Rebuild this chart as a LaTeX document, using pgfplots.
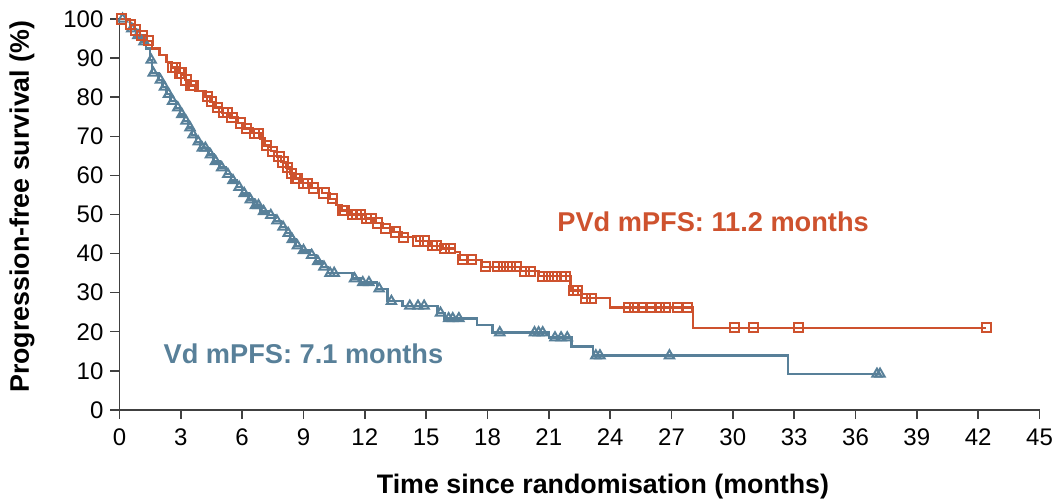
\documentclass[border=0pt]{standalone}
\usepackage{pgfplots}
\usepackage{pgfplotstable}
\pgfplotsset{compat=1.18}
\usepackage{fontspec}
\setmainfont{Liberation Sans}
\definecolor{pvd}{RGB}{206,82,46}
\definecolor{vd}{RGB}{88,128,153}

% Kaplan-Meier step data: time (months), survival (%)
\pgfplotstableread{
t S
0 100
0.5 98.6
0.75 97.2
1.0 95.8
1.3 94.4
1.6 92.5
1.95 90.8
2.3 89.0
2.55 87.6
2.9 86.2
3.2 84.4
3.45 83.0
3.7 81.6
4.2 80.2
4.45 78.8
4.7 77.4
5.0 76.0
5.4 74.8
5.8 73.4
6.1 72.0
6.5 70.8
6.9 69.4
7.1 67.6
7.4 66.2
7.7 64.8
7.9 63.4
8.15 62.0
8.35 60.5
8.55 59.2
8.9 58.0
9.4 56.8
9.9 55.5
10.3 54.0
10.6 52.5
10.85 51.0
11.3 50.0
12.0 49.0
12.5 47.8
12.9 46.5
13.4 45.5
13.8 44.2
14.5 43.2
15.2 42.0
15.8 41.3
16.4 40.4
16.65 38.4
17.7 36.6
19.6 35.5
20.5 34.2
22.05 30.6
22.6 28.6
24.0 26.2
28.05 21.0
42.4 21.0
}\pvdsteps

% censored observations, PVd
\pgfplotstableread{
t S
0.1 100
0.55 98.6
0.8 97.2
1.1 95.8
1.4 94.4
2.6 87.6
2.75 87.6
2.95 86.2
3.05 86.2
3.25 84.4
3.5 83.0
3.6 83.0
4.3 80.2
4.5 78.8
4.8 77.4
5.1 76.0
5.3 76.0
5.5 74.8
5.9 73.4
6.2 72.0
6.6 70.8
6.8 70.8
7.2 67.6
7.5 66.2
7.8 64.8
8.0 63.4
8.2 62.0
8.4 60.5
8.6 59.2
8.7 59.2
9.0 58.0
9.2 58.0
9.5 56.8
10.0 55.5
10.4 54.0
10.9 51.0
11.0 51.0
11.4 50.0
11.6 50.0
11.8 50.0
12.1 49.0
12.3 49.0
12.6 47.8
13.0 46.5
13.5 45.5
13.9 44.2
14.6 43.2
14.9 43.2
15.3 42.0
15.5 42.0
15.9 41.3
16.2 41.3
16.8 38.4
17.2 38.4
17.9 36.6
18.5 36.6
18.8 36.6
19.1 36.6
19.4 36.6
19.8 35.5
20.1 35.5
20.7 34.2
21.0 34.2
21.3 34.2
21.6 34.2
21.8 34.2
22.2 30.6
22.4 30.6
22.8 28.6
23.1 28.6
24.9 26.2
25.2 26.2
25.6 26.2
26.0 26.2
26.4 26.2
26.7 26.2
27.3 26.2
27.8 26.2
30.1 21.0
31.0 21.0
33.2 21.0
42.4 21.0
}\pvdcens

\pgfplotstableread{
t S
0 100
0.5 97.5
0.8 95.8
1.1 94.2
1.3 92.5
1.5 89.5
1.6 86.2
1.9 84.4
2.1 82.6
2.3 80.8
2.5 79.0
2.75 77.3
2.95 75.6
3.15 73.9
3.35 72.2
3.55 70.4
3.75 68.6
3.95 67.0
4.35 65.3
4.6 63.6
4.9 62.0
5.2 60.3
5.45 58.7
5.75 57.0
6.0 55.4
6.3 53.8
6.55 52.3
6.9 50.8
7.3 49.8
7.6 48.4
7.9 46.8
8.15 45.2
8.35 43.6
8.6 42.0
8.9 40.8
9.3 39.6
9.6 38.0
9.9 36.6
10.2 35.0
11.4 33.6
11.8 32.6
12.6 31.0
13.1 27.8
13.85 26.6
15.55 24.8
15.9 23.4
17.5 21.8
18.25 19.8
21.0 18.5
22.1 16.2
23.15 13.9
32.7 9.2
37.2 9.2
}\vdsteps

% censored observations, Vd
\pgfplotstableread{
t S
0.15 100
0.6 97.5
0.9 95.8
1.2 94.2
1.55 89.5
1.65 86.2
2.0 84.4
2.2 82.6
2.4 80.8
2.6 79.0
2.85 77.3
3.05 75.6
3.25 73.9
3.45 72.2
3.6 70.4
3.85 68.6
4.05 67.0
4.2 67.0
4.45 65.3
4.7 63.6
5.0 62.0
5.3 60.3
5.55 58.7
5.85 57.0
6.1 55.4
6.4 53.8
6.65 52.3
6.8 52.3
7.05 50.8
7.4 49.8
7.7 48.4
8.0 46.8
8.25 45.2
8.45 43.6
8.7 42.0
9.0 40.8
9.4 39.6
9.7 38.0
10.0 36.6
10.3 35.0
10.5 35.0
11.5 33.6
11.9 32.6
12.2 32.6
12.7 31.0
13.3 27.8
14.2 26.6
14.6 26.6
14.9 26.6
15.7 24.8
16.1 23.4
16.3 23.4
16.6 23.4
18.6 19.8
20.3 19.8
20.5 19.8
20.7 19.8
21.3 18.5
21.6 18.5
21.9 18.5
23.3 13.9
23.5 13.9
26.9 13.9
37.05 9.2
37.2 9.2
}\vdcens

\begin{document}
\begin{tikzpicture}
\begin{axis}[
  scale only axis, width=460pt, height=195.5pt,
  xmin=0, xmax=45, ymin=0, ymax=100,
  axis lines=left,
  axis line style={-, line width=0.7pt, black!75},
  xtick={0,3,...,45}, ytick={0,10,...,100},
  tick align=outside, major tick length=4.5pt,
  tick style={line width=0.7pt, black!75},
  ticklabel style={font=\fontsize{12}{14}\selectfont},
  xticklabel style={yshift=-1.3pt},
  /pgf/number format/assume math mode=true,
  xlabel={Time since randomisation (months)},
  ylabel={Progression-free survival (\%)},
  label style={font=\bfseries\fontsize{13.4}{16}\selectfont, inner sep=1pt},
  xlabel style={at={(axis description cs:0.5255,0)}, anchor=center, yshift=-38.5pt},
  ylabel style={at={(axis description cs:-0.106,0.52)}, anchor=center},
  clip=false,
]
\coordinate (ll) at (rel axis cs:0,0);
\coordinate (ur) at (rel axis cs:1,1);
\addplot[const plot, color=vd, line width=1.2pt] table[x=t,y=S] {\vdsteps};
\addplot[only marks, mark=triangle, mark size=2.7pt, color=vd, mark options={line width=1pt}] table[x=t,y=S] {\vdcens};
\addplot[const plot, color=pvd, line width=1.2pt] table[x=t,y=S] {\pvdsteps};
\addplot[only marks, mark=square, mark size=2.3pt, color=pvd, mark options={line width=1pt}] table[x=t,y=S] {\pvdcens};

\node[anchor=west, inner sep=0pt, text=pvd, font=\bfseries\fontsize{13.6}{16}\selectfont] at (axis cs:21.4,48.1) {PVd mPFS: 11.2 months};
\node[anchor=west, inner sep=0pt, text=vd, font=\bfseries\fontsize{13.6}{16}\selectfont] at (axis cs:2.14,14.3) {Vd mPFS: 7.1 months};
\end{axis}
\pgfresetboundingbox
\path[use as bounding box] ([shift={(-59.75pt,-45.5pt)}]ll) rectangle ([shift={(6.75pt,9.5pt)}]ur);
\end{tikzpicture}
\end{document}
